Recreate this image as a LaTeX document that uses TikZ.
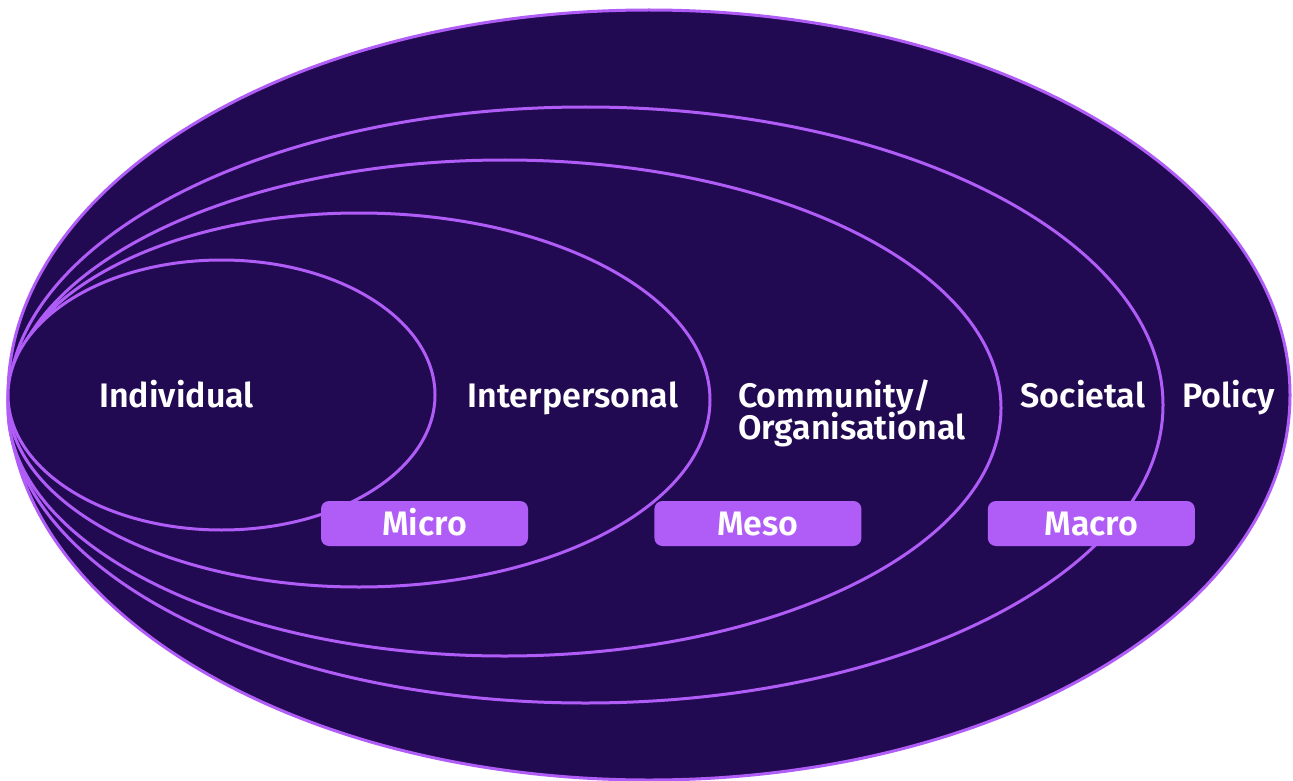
\documentclass[tikz,border=0pt]{standalone}
\usepackage{fontspec}
\setmainfont{Fira Sans SemiBold}
\usepackage{tikz}
\usetikzlibrary{positioning}

\definecolor{ink}{HTML}{220A52}
\definecolor{lilac}{HTML}{B05CF7}

\begin{document}
\begin{tikzpicture}
	[x=1pt,y=-1pt,
	ring/.style={draw=lilac,fill=ink,line width=3pt},
	level/.style={text=white,inner sep=0pt,font=\fontsize{34}{36}\selectfont},
	tag/.style={fill=lilac,rounded corners=8pt,minimum width=207pt,minimum height=45pt,
		text height=23pt,text depth=0pt,inner sep=0pt,text=white,font=\fontsize{34}{36}\selectfont}]
	\useasboundingbox (0,0) rectangle (1293,781);
	% rings, outermost first
	\foreach \cx/\cy/\rx/\ry in {649/395/641/385, 585.5/405/577.5/298, 504.5/408/496.5/248,
		359/400/351/187, 221.5/395/213.5/135}
		\draw[ring] (\cx,\cy) ellipse [x radius=\rx, y radius=\ry];
	
	\node[level,anchor=base] (indiv) at (176.5,407) {Individual};
	\node[level,anchor=base] (inter) at (573,407) {Interpersonal};
	\node[level,anchor=base west] (comm) at (738,407) {Community/};
	\node[level,anchor=base west] (org) at (738,439) {Organisational};
	\node[level,anchor=base] (soc) at (1083,407) {Societal};
	\node[level,anchor=base] (pol) at (1228.5,407) {Policy};
	
	\node[tag] (micro) at (424.5,523.5) {Micro};
	\node[tag,right=126pt of micro] (meso) {Meso};
	\node[tag,right=126pt of meso] (macro) {Macro};
\end{tikzpicture}
\end{document}
